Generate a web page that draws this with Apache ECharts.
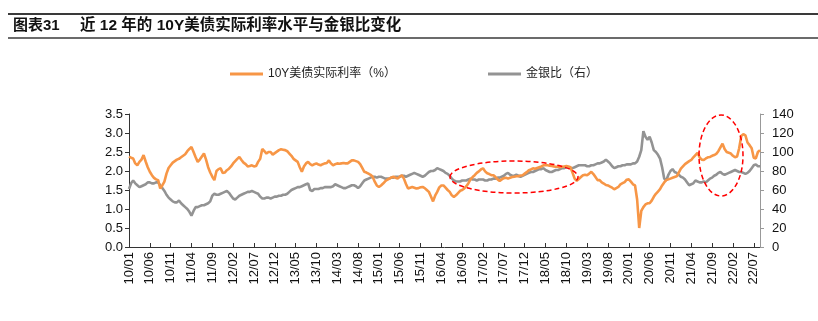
<!DOCTYPE html>
<html><head><meta charset="utf-8">
<script src="https://cdn.jsdelivr.net/npm/echarts@6/dist/echarts.min.js"></script>
<style>html,body{margin:0;padding:0;background:#fff}#c{width:818px;height:321px}</style>
</head><body><div id="c"></div>
<script>
// Semi-monthly observations from 2010/01 to 2022/08 (two per month)
const startYear = 2010;
const tickLabels = ['10/01','10/06','10/11','11/04','11/09','12/02','12/07','12/12','13/05','13/10','14/03','14/08','15/01','15/06','15/11','16/04','16/09','17/02','17/07','17/12','18/05','18/10','19/03','19/08','20/01','20/06','20/11','21/04','21/09','22/02','22/07'];
const realRate = [
2.38,2.35,2.33,2.20,2.15,2.24,2.30,2.42,2.25,2.10,
1.98,1.89,1.82,1.78,1.76,1.54,1.62,1.72,1.93,2.08,
2.15,2.22,2.26,2.30,2.32,2.36,2.40,2.44,2.52,2.58,
2.63,2.50,2.36,2.24,2.30,2.38,2.46,2.30,2.10,1.96,
1.85,1.76,2.00,2.05,2.07,1.95,1.96,2.02,2.06,2.12,
2.20,2.26,2.32,2.37,2.29,2.22,2.18,2.12,2.13,2.15,
2.12,2.13,2.24,2.32,2.58,2.52,2.46,2.50,2.50,2.43,
2.47,2.51,2.55,2.57,2.56,2.55,2.52,2.46,2.40,2.32,
2.28,2.24,2.10,1.98,2.12,2.20,2.24,2.18,2.15,2.18,
2.20,2.17,2.15,2.18,2.20,2.21,2.28,2.20,2.15,2.18,
2.20,2.19,2.20,2.21,2.20,2.20,2.24,2.28,2.28,2.26,
2.24,2.18,2.08,1.98,1.96,1.93,1.90,1.85,1.72,1.62,
1.58,1.62,1.67,1.73,1.77,1.80,1.83,1.85,1.82,1.80,
1.85,1.89,1.80,1.66,1.54,1.56,1.58,1.56,1.54,1.55,
1.57,1.58,1.55,1.50,1.45,1.33,1.20,1.35,1.45,1.57,
1.62,1.62,1.56,1.50,1.45,1.36,1.32,1.36,1.42,1.48,
1.50,1.54,1.60,1.68,1.78,1.84,1.89,1.95,1.99,2.04,
2.07,1.99,1.94,1.92,1.89,1.89,1.84,1.78,1.74,1.78,
1.81,1.82,1.80,1.82,1.84,1.85,1.86,1.86,1.88,1.89,
1.93,1.97,2.02,2.04,2.07,2.06,2.08,2.10,2.12,2.15,
2.16,2.15,2.14,2.13,2.12,2.11,2.11,2.10,2.11,2.12,
2.13,2.12,2.10,1.95,1.80,1.74,1.79,1.84,1.89,1.90,
1.89,1.93,1.98,1.92,1.84,1.76,1.76,1.70,1.67,1.63,
1.62,1.59,1.56,1.52,1.55,1.58,1.65,1.68,1.71,1.77,
1.78,1.72,1.65,1.62,1.25,0.50,0.95,1.05,1.12,1.15,
1.15,1.22,1.32,1.40,1.46,1.52,1.62,1.70,1.76,1.78,
1.80,1.82,1.84,1.86,1.96,2.06,2.12,2.18,2.22,2.26,
2.29,2.36,2.42,2.48,2.36,2.30,2.29,2.33,2.36,2.37,
2.40,2.42,2.45,2.52,2.62,2.72,2.58,2.50,2.48,2.46,
2.40,2.36,2.38,2.60,2.92,2.97,2.94,2.75,2.68,2.60,
2.35,2.33,2.50,2.55];
const goldSilver = [
61,67,70,67,65,63,64,65,66,68,
68,67,67,68,68,65,62,59,55,52,
50,48,47,47,49,46,44,42,40,37,
33,38,42,42,43,44,44,45,46,48,
54,56,55,55,56,57,58,59,57,54,
51,50,52,54,55,56,57,58,58,59,
58,57,56,53,51,51,52,52,51,52,
53,53,54,54,55,55,56,58,60,61,
62,63,63,64,65,66,67,60,59,61,
61,61,62,62,63,63,63,63,64,66,
65,64,63,62,62,63,64,65,65,64,
62,64,67,70,71,72,73,74,74,73,
74,74,73,72,72,72,73,73,74,74,
74,75,75,74,75,76,77,78,77,76,
75,74,75,77,79,80,80,81,83,82,
81,80,78,77,75,72,70,69,69,69,
70,70,70,71,72,71,71,70,71,71,
71,70,70,71,71,72,72,73,73,74,
75,77,78,76,75,75,76,75,74,75,
76,77,78,79,79,80,81,82,82,83,
81,80,79,79,80,81,81,82,83,83,
84,84,83,83,84,85,86,86,86,86,
85,85,86,86,87,88,88,89,90,92,
90,88,85,83,84,85,85,86,86,87,
87,87,88,88,90,95,102,122,116,113,
116,110,102,100,97,93,84,72,70,76,
80,82,79,78,76,74,73,71,68,65,
66,67,70,69,68,68,69,68,70,72,
73,75,76,78,79,77,76,77,78,79,
80,81,80,79,79,78,77,78,80,83,
86,87,85,85];
const seriesNames = ['10Y美债实际利率（%）','金银比（右）'];

const categories = realRate.map((_, i) => {
  const m = Math.floor(i / 2);
  const y = (startYear + Math.floor(m / 12)) % 100;
  const mm = (m % 12) + 1;
  return String(y).padStart(2,'0') + '/' + String(mm).padStart(2,'0');
});

const FONT = '"Liberation Sans", Arial, "Noto Sans CJK SC", sans-serif';
const LEGEND_FONT = '"Liberation Sans", "Noto Sans CJK SC", sans-serif';
const chart = echarts.init(document.getElementById('c'), null, {renderer:'canvas'});
chart.setOption({
  animation: false,
  backgroundColor: '#fff',
  textStyle: {fontFamily: FONT},
  grid: {left:129, right:58, top:114, bottom:74, containLabel:false},
  legend: [
    {data:[seriesNames[0]], left:225, top:63, itemWidth:33, itemHeight:3, icon:'rect', textStyle:{fontSize:12, color:'#222', fontFamily:LEGEND_FONT}},
    {data:[seriesNames[1]], left:483, top:63, itemWidth:33, itemHeight:3, icon:'rect', textStyle:{fontSize:12, color:'#222', fontFamily:LEGEND_FONT}}
  ],
  xAxis: {
    type:'category', data: categories, boundaryGap:false,
    axisLine:{show:true, lineStyle:{color:'#333', width:1}},
    axisTick:{show:true, interval:9, inside:true, length:4, lineStyle:{color:'#333'}},
    axisLabel:{interval:9, rotate:90, margin:5, fontSize:13, color:'#111', fontFamily:FONT},
    splitLine:{show:false}
  },
  yAxis: [
    {type:'value', min:0, max:3.5, interval:0.5, position:'left',
     axisLine:{show:true, lineStyle:{color:'#333'}},
     axisTick:{show:true, length:4, lineStyle:{color:'#333'}},
     axisLabel:{fontSize:13, color:'#111', margin:6, formatter: v => v.toFixed(1), fontFamily:FONT},
     splitLine:{show:false}},
    {type:'value', min:0, max:140, interval:20, position:'right',
     axisLine:{show:true, lineStyle:{color:'#999'}},
     axisTick:{show:true, length:4, lineStyle:{color:'#999'}},
     axisLabel:{fontSize:13, color:'#111', margin:12, fontFamily:FONT},
     splitLine:{show:false}}
  ],
  series: [
    {name:seriesNames[0], type:'line', yAxisIndex:0, data:realRate, showSymbol:false, symbol:'none',
     lineStyle:{color:'#F79646', width:2.6}, itemStyle:{color:'#F79646'}, z:3},
    {name:seriesNames[1], type:'line', yAxisIndex:1, data:goldSilver, showSymbol:false, symbol:'none',
     lineStyle:{color:'#939393', width:2.6}, itemStyle:{color:'#939393'}, z:2}
  ],
  graphic: [
    {type:'line', shape:{x1:8, y1:14, x2:818, y2:14}, style:{stroke:'#3a3a3a', lineWidth:2}},
    {type:'line', shape:{x1:8, y1:38, x2:818, y2:38}, style:{stroke:'#3a3a3a', lineWidth:1.5}},
    {type:'text', left:13, top:18, style:{text:'图表31', font:'bold 15px '+FONT, fill:'#111'}},
    {type:'text', left:80, top:18, style:{text:'近 12 年的 10Y美债实际利率水平与金银比变化', font:'bold 15.5px '+FONT, fill:'#111'}},
    {type:'ellipse', shape:{cx:514, cy:177, rx:64, ry:16}, style:{fill:'none', stroke:'#FF0000', lineWidth:1.5, lineDash:[5,3]}, z:10},
    {type:'ellipse', shape:{cx:721, cy:155.5, rx:22, ry:40.5}, style:{fill:'none', stroke:'#FF0000', lineWidth:1.5, lineDash:[5,3]}, z:10}
  ]
});
</script></body></html>
